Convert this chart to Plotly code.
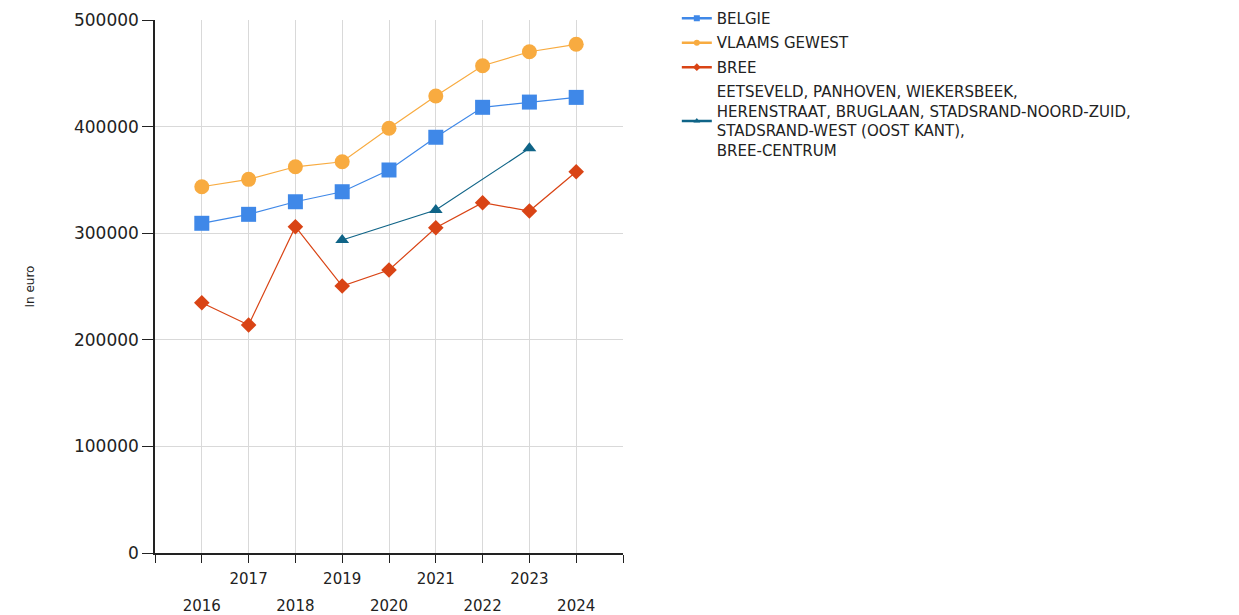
# encoding:utf-8
import plotly.graph_objects as go

jaren = [2016, 2017, 2018, 2019, 2020, 2021, 2022, 2023, 2024]
belgie = [309300, 317700, 329500, 338900, 359300, 390000, 418100, 423000, 427400]
vlaams = [343600, 350500, 362300, 367000, 398400, 428700, 457100, 470200, 477200]
bree = [234800, 213900, 306100, 250400, 265500, 305100, 328600, 320800, 357700]
wijk_jaren = [2019, 2021, 2023]
wijk = [293600, 321700, 379600]
wijk_naam = ('EETSEVELD, PANHOVEN, WIEKERSBEEK,<br>HERENSTRAAT, BRUGLAAN, STADSRAND-NOORD-ZUID,'
             '<br>STADSRAND-WEST (OOST KANT),<br>BREE-CENTRUM')

# tick rij: oneven jaren boven, even jaren onder
tick_jaren = list(range(2015, 2026))
boven = [str(j) if j % 2 == 1 and 2016 <= j <= 2024 else '' for j in tick_jaren]
onder = [str(j) if j % 2 == 0 and 2016 <= j <= 2024 else '' for j in tick_jaren]

fnt = 'DejaVu Sans, Verdana, sans-serif'

reeksen = [
    ('BELGIE', jaren, belgie, '#3f88e8', 'square', 15),
    ('VLAAMS GEWEST', jaren, vlaams, '#f8ab40', 'circle', 15),
    ('BREE', jaren, bree, '#d94415', 'diamond', 12),
    (wijk_naam, wijk_jaren, wijk, '#0f6487', 'triangle-up', 12),
]

traces = []
for naam, xs, ys, kleur, sym, grootte in reeksen:
    traces.append(go.Scatter(x=xs, y=ys, mode='lines+markers', name=naam, showlegend=False,
                             line=dict(color=kleur, width=1.2),
                             marker=dict(symbol=sym, size=grootte, color=kleur)))
    # kleine markers in de legende
    traces.append(go.Scatter(x=[None], y=[None], mode='lines+markers', name=naam, legendgroup=naam,
                             line=dict(color=kleur, width=2.5),
                             marker=dict(symbol=sym, size=6, color=kleur)))

# lege trace voor de tweede rij jaartallen
traces.append(go.Scatter(x=jaren, y=belgie, xaxis='x2', mode='none', showlegend=False, hoverinfo='skip'))

layout = go.Layout(
    width=1231, height=607,
    paper_bgcolor='white', plot_bgcolor='white',
    font=dict(family=fnt, size=15, color='#222'),
    margin=dict(l=147, r=616, t=12, b=62, autoexpand=False),
    showlegend=True,
    legend=dict(x=1.115, y=1.034, xanchor='left', yanchor='top', traceorder='grouped',
                tracegroupgap=2, font=dict(size=15, color='#222')),
    xaxis=dict(range=[2015, 2025], tickvals=tick_jaren, ticktext=boven,
               showgrid=True, gridcolor='#d9d9d9', gridwidth=1,
               showline=True, linecolor='#222', linewidth=1.5,
               ticks='outside', ticklen=8, tickcolor='#222', zeroline=False,
               tickfont=dict(size=15), ticklabelstandoff=3),
    xaxis2=dict(overlaying='x', matches='x', side='bottom', tickvals=tick_jaren, ticktext=onder,
                showgrid=False, showline=False, ticks='', ticklabelstandoff=42, zeroline=False,
                tickfont=dict(size=15)),
    yaxis=dict(range=[0, 500000], tickvals=[0, 100000, 200000, 300000, 400000, 500000],
               tickformat='d', showgrid=True, gridcolor='#d9d9d9', gridwidth=1,
               showline=True, linecolor='#222', linewidth=1.5,
               ticks='outside', ticklen=11, tickcolor='#222', zeroline=False,
               tickfont=dict(size=17),
               title=dict(text='In euro', font=dict(size=12), standoff=37)),
)

fig = go.Figure(data=traces, layout=layout)
fig.write_html('out.html')
print('ok')
